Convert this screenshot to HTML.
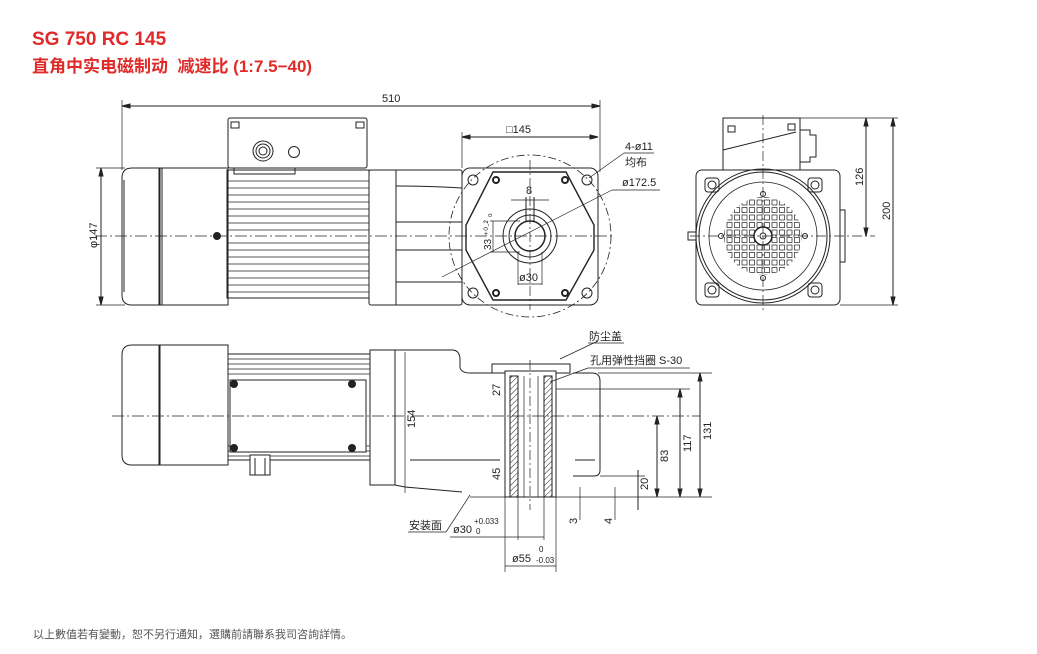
<!DOCTYPE html>
<html><head><meta charset="utf-8"><style>
body{margin:0;background:#fff;width:1037px;height:654px;overflow:hidden;font-family:"Liberation Sans","Noto Sans CJK SC",sans-serif}
.t1{position:absolute;left:32px;top:29px;color:#e02a2a;font-weight:bold;font-size:19px}
.t2{position:absolute;left:32px;top:52px;color:#e02a2a;font-weight:bold;font-size:17px}
.ft{position:absolute;left:33px;top:626px;color:#555;font-size:11px}
svg{position:absolute;left:0;top:0}
text{font-family:"Liberation Sans","Noto Sans CJK SC",sans-serif;font-size:11px;fill:#222;stroke:none}
</style></head><body>
<div class="t1">SG 750 RC 145</div>
<div class="t2">直角中实电磁制动 &nbsp;减速比 (1:7.5−40)</div>
<div class="ft">以上數值若有變動，恕不另行通知，選購前請聯系我司咨詢詳情。</div>
<svg width="1037" height="654" viewBox="0 0 1037 654" fill="none" stroke="#222" stroke-width="1">
<defs>
<pattern id="h" width="4" height="4" patternUnits="userSpaceOnUse" patternTransform="rotate(45)"><line x1="0" y1="0" x2="0" y2="4" stroke="#222" stroke-width="1"/></pattern>
<pattern id="g" x="734" y="207" width="7.5" height="7.5" patternUnits="userSpaceOnUse"><rect x="0.5" y="0.5" width="5" height="5" stroke="#222" stroke-width="0.7" fill="none"/></pattern>
<clipPath id="c"><circle cx="763" cy="236" r="39"/></clipPath>
</defs>
<!-- ===== TOP VIEW ===== -->
<line x1="122" y1="106" x2="600" y2="106"/><path d="M122 106 l8 -2 v4z M600 106 l-8 -2 v4z" fill="#222"/>
<line x1="122" y1="100" x2="122" y2="170" stroke-width="0.7"/><line x1="600" y1="100" x2="600" y2="172" stroke-width="0.7"/>
<text x="382" y="102">510</text>
<line x1="101" y1="168" x2="101" y2="305"/><path d="M101 168 l-2 8 h4z M101 305 l-2 -8 h4z" fill="#222"/>
<line x1="96" y1="168" x2="125" y2="168" stroke-width="0.7"/><line x1="96" y1="305" x2="125" y2="305" stroke-width="0.7"/>
<text x="0" y="0" transform="translate(97 248) rotate(-90)">φ147</text>
<path d="M160 168 H132 Q122 168 122 178 V295 Q122 305 132 305 H160 Z"/>
<line x1="124" y1="180" x2="124" y2="292"/>
<rect x="159" y="168" width="69" height="137"/><rect x="159" y="168" width="3" height="137"/>
<circle cx="217" cy="236" r="3.5" fill="#222"/>
<rect x="228" y="118" width="139" height="50" rx="2"/>
<rect x="231" y="122" width="8" height="6"/><rect x="356" y="122" width="8" height="6"/>
<circle cx="263" cy="151" r="10"/><circle cx="263" cy="151" r="7"/><circle cx="263" cy="151" r="4"/>
<circle cx="294" cy="152" r="5.5"/>
<path d="M234 168 v6 h61 v-6"/>
<rect x="227" y="170" width="142" height="128"/>
<g stroke-width="0.8">
<line x1="227" y1="181" x2="369" y2="181"/><line x1="227" y1="188" x2="369" y2="188"/><line x1="227" y1="195" x2="369" y2="195"/><line x1="227" y1="202" x2="369" y2="202"/><line x1="227" y1="209" x2="369" y2="209"/><line x1="227" y1="216" x2="369" y2="216"/><line x1="227" y1="223" x2="369" y2="223"/><line x1="227" y1="230" x2="369" y2="230"/><line x1="227" y1="243" x2="369" y2="243"/><line x1="227" y1="250" x2="369" y2="250"/><line x1="227" y1="257" x2="369" y2="257"/><line x1="227" y1="264" x2="369" y2="264"/><line x1="227" y1="271" x2="369" y2="271"/><line x1="227" y1="278" x2="369" y2="278"/><line x1="227" y1="285" x2="369" y2="285"/><line x1="227" y1="292" x2="369" y2="292"/>
</g>
<rect x="369" y="170" width="93" height="135" rx="2"/>
<line x1="396" y1="170" x2="396" y2="305"/>
<path d="M396 186 Q430 186 462 188 M396 282 Q430 282 462 282 M396 222 H462 M396 250 H462"/>
<!-- flange -->
<rect x="462" y="168" width="136" height="137" rx="8"/>
<path d="M493 172 H566 L594 225 V250 L566 300 H493 L466 250 V225 Z" stroke-width="1.4"/>
<circle cx="530" cy="236" r="81" stroke-dasharray="8 3 2 3" stroke-width="0.8"/>
<circle cx="473" cy="180" r="5"/><circle cx="587" cy="180" r="5"/><circle cx="473" cy="293" r="5"/><circle cx="587" cy="293" r="5"/>
<circle cx="496" cy="180" r="3" stroke-width="2"/><circle cx="565" cy="180" r="3" stroke-width="2"/><circle cx="496" cy="293" r="3" stroke-width="2"/><circle cx="565" cy="293" r="3" stroke-width="2"/>
<circle cx="530" cy="236" r="27"/><circle cx="530" cy="236" r="21"/><circle cx="530" cy="236" r="15" stroke-width="1.5"/>
<path d="M526 221 V197 M534 221 V197"/>
<line x1="530" y1="160" x2="530" y2="310" stroke-dasharray="10 3 2 3" stroke-width="0.7"/>
<line x1="95" y1="236" x2="615" y2="236" stroke-dasharray="12 3 2 3" stroke-width="0.7"/>
<line x1="462" y1="137" x2="598" y2="137"/><path d="M462 137 l8 -2 v4z M598 137 l-8 -2 v4z" fill="#222"/>
<line x1="462" y1="132" x2="462" y2="168" stroke-width="0.7"/>
<text x="506" y="133">□145</text>
<line x1="511" y1="200" x2="549" y2="200" stroke-width="0.7"/>
<text x="526" y="194">8</text>
<line x1="493" y1="221" x2="493" y2="252" stroke-width="0.7"/><line x1="490" y1="221" x2="520" y2="221" stroke-width="0.7"/><line x1="490" y1="252" x2="520" y2="252" stroke-width="0.7"/>
<text x="0" y="0" transform="translate(491 250) rotate(-90)" style="font-size:10px">33 ⁺⁰·² ₀</text>
<line x1="518" y1="252" x2="518" y2="285" stroke-width="0.7"/><line x1="542" y1="252" x2="542" y2="285" stroke-width="0.7"/>
<line x1="518" y1="284" x2="542" y2="284" stroke-width="0.7"/>
<text x="519" y="281">ø30</text>
<line x1="442" y1="277" x2="612" y2="190" stroke-width="0.7"/><line x1="612" y1="190" x2="660" y2="190" stroke-width="0.7"/>
<text x="622" y="186">ø172.5</text>
<line x1="589" y1="178" x2="624" y2="153" stroke-width="0.7"/><line x1="624" y1="153" x2="654" y2="153" stroke-width="0.7"/>
<text x="625" y="150">4-ø11</text><text x="625" y="166">均布</text>
<!-- ===== RIGHT VIEW ===== -->
<rect x="696" y="170" width="144" height="135" rx="6"/>
<rect x="840" y="210" width="5" height="52"/>
<rect x="688" y="232" width="8" height="8"/>
<circle cx="763" cy="236" r="67"/><circle cx="763" cy="236" r="64"/><circle cx="763" cy="236" r="54" stroke-width="0.8"/>
<rect x="723" y="118" width="77" height="52"/>
<path d="M723 150 L796 132"/>
<rect x="728" y="126" width="7" height="6"/><rect x="788" y="124" width="7" height="6"/>
<path d="M800 130 h10 v5 h6 v22 h-6 v5 h-10"/>
<rect x="705" y="178" width="14" height="14" rx="3"/><circle cx="712" cy="185" r="4"/>
<rect x="808" y="178" width="14" height="14" rx="3"/><circle cx="815" cy="185" r="4"/>
<rect x="705" y="283" width="14" height="14" rx="3"/><circle cx="712" cy="290" r="4"/>
<rect x="808" y="283" width="14" height="14" rx="3"/><circle cx="815" cy="290" r="4"/>
<rect x="722" y="195" width="82" height="82" fill="url(#g)" stroke="none" clip-path="url(#c)"/>
<circle cx="763" cy="236" r="9" fill="#fff" stroke-width="1.5"/><circle cx="763" cy="236" r="3"/>
<circle cx="763" cy="194" r="2.5"/><circle cx="763" cy="278" r="2.5"/><circle cx="721" cy="236" r="2.5"/><circle cx="805" cy="236" r="2.5"/>
<line x1="690" y1="236" x2="875" y2="236" stroke-dasharray="10 3 2 3" stroke-width="0.7"/>
<line x1="763" y1="115" x2="763" y2="312" stroke-dasharray="10 3 2 3" stroke-width="0.7"/>
<line x1="800" y1="118" x2="898" y2="118" stroke-width="0.7"/><line x1="840" y1="305" x2="898" y2="305" stroke-width="0.7"/>
<line x1="866" y1="118" x2="866" y2="236"/><path d="M866 118 l-2 8 h4z M866 236 l-2 -8 h4z" fill="#222"/>
<line x1="893" y1="118" x2="893" y2="305"/><path d="M893 118 l-2 8 h4z M893 305 l-2 -8 h4z" fill="#222"/>
<text x="0" y="0" transform="translate(863 186) rotate(-90)">126</text>
<text x="0" y="0" transform="translate(890 220) rotate(-90)">200</text>
<!-- ===== BOTTOM VIEW ===== -->
<path d="M160 345 H132 Q122 345 122 355 V455 Q122 465 132 465 H160 Z"/>
<rect x="159" y="345" width="69" height="120"/>
<rect x="228" y="354" width="142" height="106"/>
<g stroke-width="0.8">
<line x1="228" y1="359" x2="370" y2="359"/><line x1="228" y1="364" x2="370" y2="364"/><line x1="228" y1="369" x2="370" y2="369"/><line x1="228" y1="374" x2="370" y2="374"/>
<line x1="228" y1="456" x2="370" y2="456"/><line x1="228" y1="451" x2="370" y2="451"/><line x1="228" y1="446" x2="370" y2="446"/>
</g>
<rect x="230" y="380" width="136" height="72" fill="#fff"/>
<circle cx="234" cy="384" r="3.5" fill="#222"/><circle cx="352" cy="384" r="3.5" fill="#222"/><circle cx="234" cy="448" r="3.5" fill="#222"/><circle cx="352" cy="448" r="3.5" fill="#222"/>
<rect x="250" y="455" width="20" height="20" fill="#fff"/><line x1="255" y1="458" x2="255" y2="475"/><line x1="265" y1="458" x2="265" y2="475"/>
<path d="M370 350 H395 V485 H370 Z"/>
<path d="M395 350 H452 Q460 350 460 360 V368 Q462 373 470 373 H492 M395 485 L405 487 L462 492"/>
<path d="M410 460 H500 M575 460 H595"/>
<path d="M573 373 H592 Q600 373 600 381 V470 Q600 476 594 476 H573"/>
<rect x="492" y="364" width="78" height="9"/>
<rect x="505" y="371" width="51" height="126" fill="#fff"/>
<rect x="510" y="376" width="8" height="121" fill="url(#h)"/>
<rect x="544" y="376" width="8" height="121" fill="url(#h)"/>
<line x1="530" y1="360" x2="530" y2="510" stroke-dasharray="10 3 2 3" stroke-width="0.7"/>
<path d="M518 376 V497 M544 376 V497 M524 376 V497 M538 376 V497" stroke-width="0.7"/>
<line x1="112" y1="416" x2="700" y2="416" stroke-dasharray="12 3 2 3" stroke-width="0.7"/>
<line x1="405" y1="352" x2="405" y2="493" stroke-width="0.7"/>
<text x="0" y="0" transform="translate(415 428) rotate(-90)">154</text>
<line x1="470" y1="497" x2="712" y2="497" stroke-width="0.7"/>
<line x1="598" y1="373" x2="712" y2="373" stroke-width="0.7"/><line x1="556" y1="389" x2="690" y2="389" stroke-width="0.7"/>
<line x1="700" y1="373" x2="700" y2="497"/><path d="M700 373 l-2 8 h4z M700 497 l-2 -8 h4z" fill="#222"/>
<line x1="680" y1="389" x2="680" y2="497"/><path d="M680 389 l-2 8 h4z M680 497 l-2 -8 h4z" fill="#222"/>
<line x1="657" y1="416" x2="657" y2="497"/><path d="M657 416 l-2 8 h4z M657 497 l-2 -8 h4z" fill="#222"/>
<line x1="638" y1="470" x2="638" y2="510"/><line x1="600" y1="476" x2="645" y2="476" stroke-width="0.7"/>
<line x1="615" y1="487" x2="615" y2="520" stroke-width="0.7"/><line x1="580" y1="487" x2="580" y2="520" stroke-width="0.7"/>
<text x="0" y="0" transform="translate(711 440) rotate(-90)">131</text>
<text x="0" y="0" transform="translate(691 452) rotate(-90)">117</text>
<text x="0" y="0" transform="translate(668 462) rotate(-90)">83</text>
<text x="0" y="0" transform="translate(648 490) rotate(-90)">20</text>
<text x="0" y="0" transform="translate(612 524) rotate(-90)">4</text>
<text x="0" y="0" transform="translate(577 524) rotate(-90)">3</text>
<line x1="505" y1="385" x2="505" y2="395" stroke-width="0.7"/>
<text x="0" y="0" transform="translate(500 396) rotate(-90)">27</text>
<text x="0" y="0" transform="translate(500 480) rotate(-90)">45</text>
<line x1="518" y1="497" x2="518" y2="540" stroke-width="0.7"/><line x1="544" y1="497" x2="544" y2="540" stroke-width="0.7"/>
<line x1="450" y1="537" x2="544" y2="537" stroke-width="0.7"/>
<text x="453" y="533">ø30</text><text x="474" y="524" style="font-size:8px">+0.033</text><text x="476" y="534" style="font-size:8px">0</text>
<line x1="505" y1="497" x2="505" y2="572" stroke-width="0.7"/><line x1="556" y1="497" x2="556" y2="572" stroke-width="0.7"/>
<line x1="505" y1="566" x2="556" y2="566" stroke-width="0.7"/>
<text x="512" y="562">ø55</text><text x="539" y="552" style="font-size:8px">0</text><text x="536" y="563" style="font-size:8px">-0.03</text>
<line x1="408" y1="532" x2="446" y2="532" stroke-width="0.7"/><line x1="446" y1="532" x2="470" y2="495" stroke-width="0.7"/>
<text x="409" y="529">安装面</text>
<line x1="560" y1="359" x2="598" y2="341" stroke-width="0.7"/><line x1="588" y1="343" x2="624" y2="343" stroke-width="0.7"/>
<text x="589" y="340">防尘盖</text>
<line x1="550" y1="382" x2="588" y2="368" stroke-width="0.7"/><line x1="588" y1="368" x2="690" y2="368" stroke-width="0.7"/>
<text x="590" y="364">孔用弹性挡圈 S-30</text>
</svg>
</body></html>
